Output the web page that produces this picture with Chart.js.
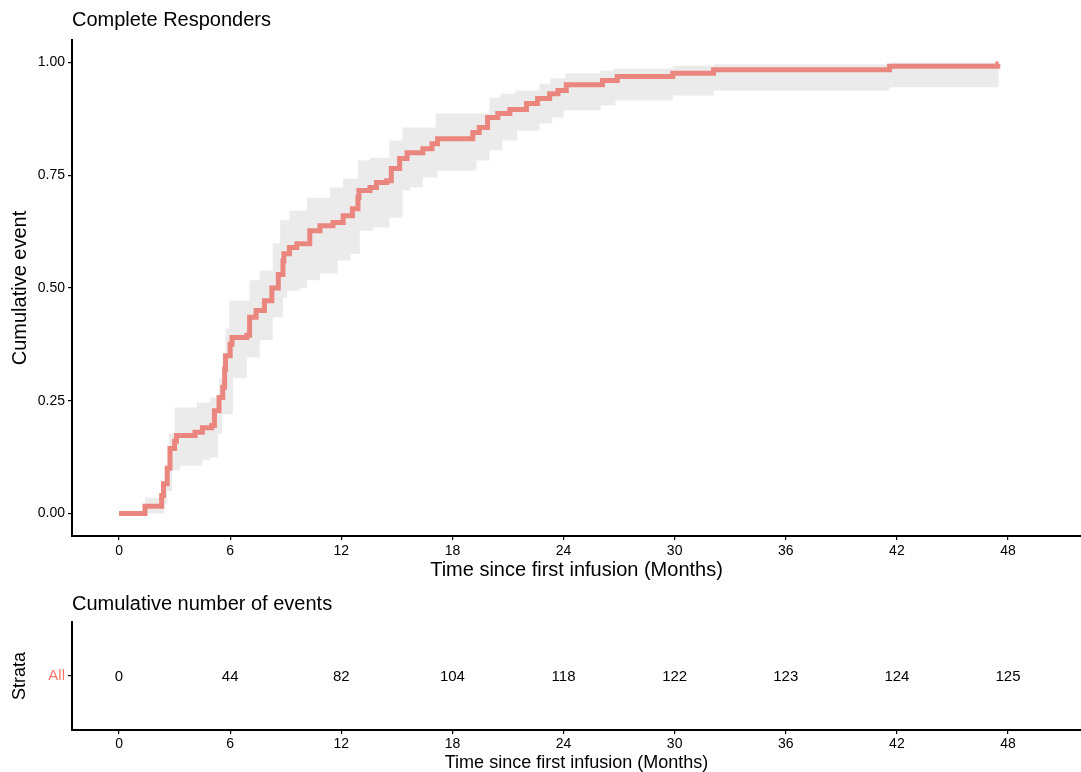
<!DOCTYPE html>
<html><head><meta charset="utf-8">
<script src="https://cdn.jsdelivr.net/npm/chart.js@4"></script>
<style>
html,body{margin:0;padding:0;background:#fff;}
#wrap{position:relative;width:1081px;height:772px;overflow:hidden;}
#c1{position:absolute;left:0;top:0;}
#c2{position:absolute;left:0;top:590px;}
</style></head><body>
<div id="wrap"><canvas id="c1" width="1081" height="590"></canvas><canvas id="c2" width="1081" height="182"></canvas></div>
<script>
// ---- data ----
const timeMonths = [0, 1.4, 2.3, 2.4, 2.6, 2.75, 3.0, 3.1, 4.1, 4.5, 5.0, 5.15, 5.4, 5.6, 5.7, 5.75, 6.0, 6.1, 6.9, 7.05, 7.4, 7.85, 8.25, 8.6, 8.85, 8.9, 9.2, 9.6, 10.3, 10.85, 11.55, 12.1, 12.6, 12.9, 12.95, 13.55, 13.9, 14.45, 14.7, 15.15, 15.55, 16.4, 16.9, 17.2, 19.1, 19.45, 19.9, 20.45, 21.1, 22.0, 22.6, 23.25, 23.7, 24.15, 26.1, 26.9, 29.9, 32.1, 41.6, 47.45, 47.5];
const cumEvent = [0, 0.016, 0.04, 0.066, 0.10, 0.144, 0.16, 0.173, 0.18, 0.19, 0.195, 0.228, 0.257, 0.28, 0.32, 0.35, 0.375, 0.39, 0.395, 0.435, 0.45, 0.472, 0.50, 0.53, 0.56, 0.576, 0.59, 0.598, 0.627, 0.638, 0.645, 0.66, 0.676, 0.70, 0.716, 0.723, 0.734, 0.738, 0.765, 0.787, 0.80, 0.809, 0.82, 0.831, 0.845, 0.856, 0.878, 0.887, 0.896, 0.909, 0.92, 0.931, 0.938, 0.951, 0.96, 0.969, 0.976, 0.984, 0.992, 0.997, 0.997];

const upperTime = [0, 1.4, 2.35, 2.5, 2.7, 3.0, 4.2, 4.9, 5.4, 5.6, 5.75, 5.95, 7.05, 7.6, 8.3, 8.7, 9.2, 10.15, 11.4, 12.1, 12.9, 13.55, 14.6, 15.3, 17.1, 20.0, 20.6, 21.4, 22.7, 23.3, 24.1, 26.0, 26.7, 29.9, 32.1, 41.6, 47.5];
const upperVal = [0, 0.035, 0.06, 0.10, 0.177, 0.235, 0.246, 0.257, 0.30, 0.355, 0.41, 0.472, 0.517, 0.539, 0.599, 0.65, 0.672, 0.70, 0.723, 0.743, 0.783, 0.789, 0.827, 0.856, 0.887, 0.922, 0.931, 0.938, 0.953, 0.965, 0.976, 0.982, 0.987, 0.993, 0.996, 1.0, 1.0];

const lowerTime = [0, 2.45, 2.6, 2.86, 3.3, 4.5, 4.9, 5.35, 5.56, 6.15, 6.9, 7.6, 8.3, 8.86, 9.07, 9.8, 10.15, 10.85, 11.8, 12.5, 13.0, 13.7, 14.6, 15.3, 15.7, 16.4, 17.2, 19.3, 20.0, 20.7, 21.5, 22.7, 23.4, 24.0, 26.0, 26.8, 29.9, 32.1, 41.6, 47.5];
const lowerVal = [0, 0.02, 0.05, 0.095, 0.106, 0.118, 0.124, 0.177, 0.22, 0.30, 0.346, 0.384, 0.435, 0.479, 0.494, 0.50, 0.517, 0.532, 0.561, 0.576, 0.627, 0.634, 0.656, 0.716, 0.723, 0.745, 0.76, 0.783, 0.805, 0.827, 0.849, 0.865, 0.878, 0.894, 0.905, 0.916, 0.927, 0.938, 0.945, 0.945];

const xTicks = [0, 6, 12, 18, 24, 30, 36, 42, 48];
const yTicks = [0, 0.25, 0.5, 0.75, 1.0];
const strata = ['All'];
const riskTimes = [0, 6, 12, 18, 24, 30, 36, 42, 48];
const riskCounts = [0, 44, 82, 104, 118, 122, 123, 124, 125];

// ---- styling ----
const FONT = "'Liberation Sans', Arial, Helvetica, sans-serif";
const LINE_COLOR = 'rgb(234,134,126)';
const BAND_COLOR = '#EBEBEB';
const X_MIN = -2.54, X_MAX = 51.94;

const toPts = (xs, ys) => xs.map((x, i) => ({x: x, y: ys[i]}));

const panelTitle = {
  id: 'panelTitle',
  afterDraw(chart, args, opts) {
    const ctx = chart.ctx;
    ctx.save();
    ctx.font = opts.font;
    ctx.fillStyle = '#000';
    ctx.textAlign = 'left';
    ctx.textBaseline = 'middle';
    ctx.fillText(opts.text, chart.chartArea.left, opts.y);
    ctx.restore();
  }
};

const riskLabels = {
  id: 'riskLabels',
  afterDatasetsDraw(chart) {
    const ctx = chart.ctx;
    const meta = chart.getDatasetMeta(0);
    ctx.save();
    ctx.font = '15px ' + FONT;
    ctx.fillStyle = '#000';
    ctx.textAlign = 'center';
    ctx.textBaseline = 'middle';
    meta.data.forEach((pt, i) => ctx.fillText(String(riskCounts[i]), pt.x, pt.y + 1));
    ctx.restore();
  }
};

function xScale(titleSize, titlePad, tickPad, height, tickSize) {
  return {
    type: 'linear', min: X_MIN, max: X_MAX,
    afterBuildTicks: s => { s.ticks = xTicks.map(v => ({value: v})); },
    afterFit: s => { s.height = height; },
    grid: {display: true, drawOnChartArea: false, drawTicks: true, tickLength: 4, color: '#000', lineWidth: 1.2},
    border: {display: true, color: '#000', width: 2},
    ticks: {color: '#000', font: {family: FONT, size: tickSize}, padding: tickPad, maxRotation: 0, autoSkip: false},
    title: {display: true, text: 'Time since first infusion (Months)', color: '#000',
            font: {family: FONT, size: titleSize, lineHeight: 1}, padding: {top: 0, bottom: titlePad}}
  };
}

new Chart(document.getElementById('c1'), {
  type: 'line',
  data: {
    datasets: [
      {label: 'All', data: toPts(timeMonths, cumEvent), stepped: 'before', borderColor: LINE_COLOR,
       borderWidth: 5, pointRadius: 0, fill: false, borderCapStyle: 'butt', borderJoinStyle: 'miter'},
      {label: 'lower', data: toPts(lowerTime, lowerVal), stepped: 'before', borderWidth: 0,
       borderColor: 'rgba(0,0,0,0)', backgroundColor: BAND_COLOR, pointRadius: 0, fill: 2},
      {label: 'upper', data: toPts(upperTime, upperVal), stepped: 'before', borderWidth: 0,
       borderColor: 'rgba(0,0,0,0)', pointRadius: 0, fill: false}
    ]
  },
  plugins: [panelTitle],
  options: {
    responsive: false, animation: false, devicePixelRatio: 1,
    layout: {padding: {top: 40, left: 0, right: 0, bottom: 0}},
    plugins: {
      legend: {display: false}, tooltip: {enabled: false},
      panelTitle: {text: 'Complete Responders', y: 20, font: '20px ' + FONT}
    },
    scales: {
      x: xScale(20, 10, 3, 54, 14),
      y: {
        type: 'linear', min: -0.05, max: 1.05,
        afterBuildTicks: s => { s.ticks = yTicks.map(v => ({value: v})); },
        afterFit: s => { s.width = 72; },
        grid: {display: true, drawOnChartArea: false, drawTicks: true, tickLength: 4, color: '#000', lineWidth: 1.2},
        border: {display: true, color: '#000', width: 2},
        ticks: {color: '#000', font: {family: FONT, size: 14}, padding: 3, callback: v => Number(v).toFixed(2)},
        title: {display: true, text: 'Cumulative event', color: '#000',
                font: {family: FONT, size: 20}, padding: {top: 8, bottom: 0}}
      }
    }
  }
});

new Chart(document.getElementById('c2'), {
  type: 'line',
  data: {
    labels: strata,
    datasets: [
      {label: 'risk', data: riskTimes.map(t => ({x: t, y: strata[0]})), showLine: false, pointRadius: 0}
    ]
  },
  plugins: [panelTitle, riskLabels],
  options: {
    responsive: false, animation: false, devicePixelRatio: 1,
    layout: {padding: {top: 32, left: 0, right: 0, bottom: 0}},
    plugins: {
      legend: {display: false}, tooltip: {enabled: false},
      panelTitle: {text: 'Cumulative number of events', y: 14, font: '20px ' + FONT}
    },
    scales: {
      x: xScale(18, 0, 2, 42, 14),
      y: {
        type: 'category', labels: strata, offset: true,
        afterFit: s => { s.width = 72; },
        grid: {display: true, drawOnChartArea: false, drawTicks: true, tickLength: 4, color: '#000', lineWidth: 1.2, offset: false},
        border: {display: true, color: '#000', width: 2},
        ticks: {color: '#F8766D', font: {family: FONT, size: 15}, padding: 3},
        title: {display: true, text: 'Strata', color: '#000',
                font: {family: FONT, size: 18}, padding: {top: 9, bottom: 0}}
      }
    }
  }
});
</script>
</body></html>
